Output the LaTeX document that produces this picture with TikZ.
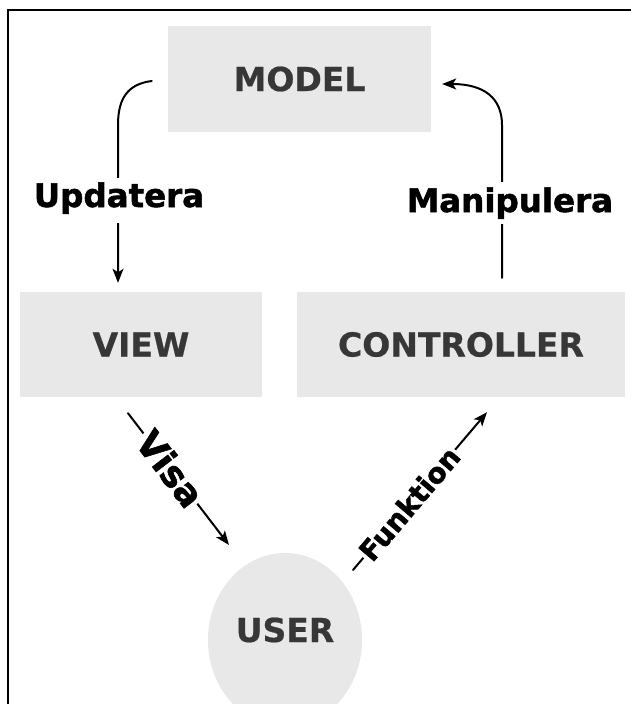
\documentclass[tikz,border=0pt]{standalone}
\usepackage{fontspec}
\setmainfont{DejaVu Sans}
\newfontfamily\boxfont{DejaVu Sans Bold}[FakeBold=0.6]
\newfontfamily\heavyfont{DejaVu Sans Bold}[FakeBold=1.6]
\usetikzlibrary{arrows.meta,shapes.geometric}
\definecolor{boxgray}{RGB}{232,232,232}
\definecolor{boxtext}{RGB}{55,55,55}
\tikzset{
  mvcbox/.style={fill=boxgray, inner sep=0pt, text=boxtext,
    font=\fontsize{33}{36}\selectfont\boxfont},
  lbl/.style={font=\fontsize{32.5}{36}\selectfont\heavyfont, text=black,
    fill=white, inner sep=0pt, anchor=base},
  slbl/.style={text=black, fill=white, inner sep=1.5pt, sloped},
  arr/.style={line width=2pt, line cap=round,
    -{Stealth[length=14pt,width=11pt,inset=3.5pt]}},
  frameline/.style={line width=2.2pt}
}
\begin{document}
\begin{tikzpicture}[x=1pt,y=-1pt]
\useasboundingbox (0,0) rectangle (630,704);
\draw[frameline] (8,705) -- (8,10) -- (631,10);

\node[mvcbox, minimum width=263pt, minimum height=106pt] (model) at (299.5,79) {MODEL};
\node[mvcbox, minimum width=242pt, minimum height=105pt] (view) at (141,344.5) {VIEW};
\node[mvcbox, minimum width=328pt, minimum height=105pt] (controller) at (461,344.5) {CONTROLLER};
\node[mvcbox, ellipse, minimum width=154pt, minimum height=174pt,
      text height=24pt, text depth=20pt] (user) at (285,640) {USER};

% Updatera: model -> view
\draw[arr] ([shift={(-16,2)}]model.west) .. controls (128,84) and (118,98) .. (118,125)
  -- ([shift={(-23,-9)}]view.north);
\node[lbl, text height=29pt, text depth=16pt] (lupd) at (119,207) {Updatera};

% Manipulera: controller -> model
\draw[arr] ([shift={(41,-14)}]controller.north) -- (502,125)
  .. controls (502,98) and (484,84) .. ([shift={(11,5)}]model.east);
\node[lbl, text height=30pt, text depth=12pt] (lman) at (510,212) {Manipulera};

% Visa: view -> user
\draw[arr] ([shift={(-13,16)}]view.south) -- ([shift={(-56,-95)}]user.center)
  node[slbl, pos=0.42, font=\fontsize{36}{40}\selectfont\heavyfont] (lvisa) {Visa};

% Funktion: user -> controller
\draw[arr] ([shift={(68,-70)}]user.center) -- ([shift={(26,15)}]controller.south)
  node[slbl, pos=0.42, font=\fontsize{28}{32}\selectfont\heavyfont] (lfunk) {Funktion};
\end{tikzpicture}
\end{document}
